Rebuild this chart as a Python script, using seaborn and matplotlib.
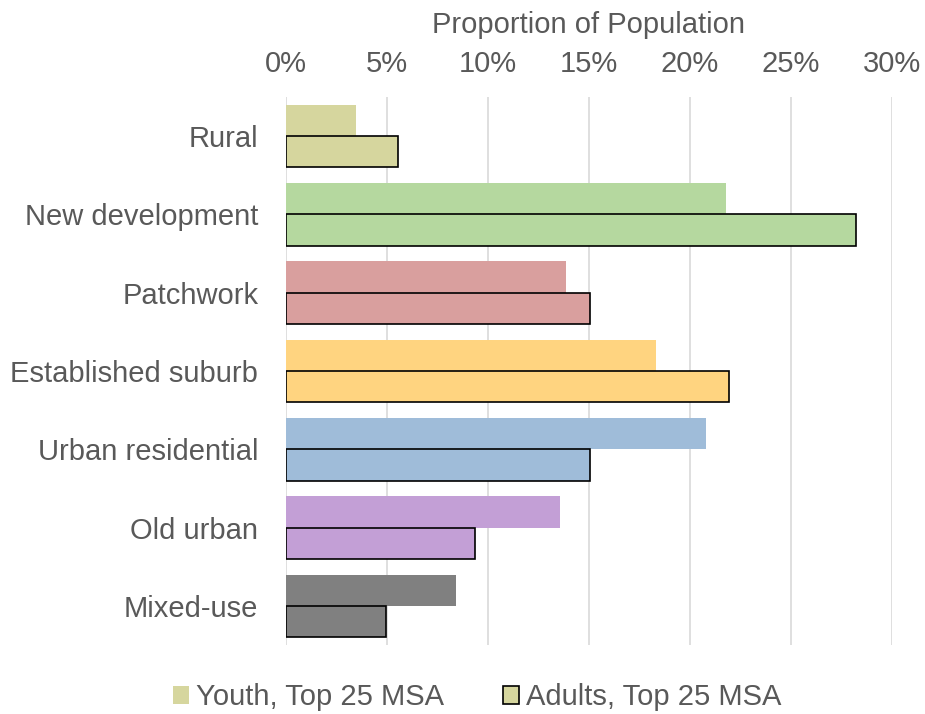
import seaborn as sns
import matplotlib.pyplot as plt
import pandas as pd
from matplotlib.patches import Patch
from matplotlib.ticker import PercentFormatter

# Data (percent of population)
categories = ["Rural", "New development", "Patchwork", "Established suburb",
              "Urban residential", "Old urban", "Mixed-use"]
youth = [3.46, 21.8, 13.85, 18.3, 20.8, 13.55, 8.4]
adults = [5.55, 28.2, 15.03, 21.95, 15.03, 9.35, 4.94]
groups = ["Youth, Top 25 MSA", "Adults, Top 25 MSA"]
colors = ["#D6D69E", "#B5D89F", "#D99F9E", "#FFD480", "#9FBCD9", "#C39FD6", "#808080"]

df = pd.DataFrame({
    "category": categories * 2,
    "value": youth + adults,
    "group": [groups[0]] * len(categories) + [groups[1]] * len(categories),
})

sns.set_theme(style="white")
plt.rcParams["font.family"] = ["Liberation Sans", "DejaVu Sans"]
text_color = "#595959"
fs = 21

fig = plt.figure(figsize=(9.25, 7.14), dpi=100)
ax = fig.add_axes([286 / 925, 1 - 645 / 714, (892 - 286) / 925, (645 - 97) / 714])

sns.barplot(data=df, y="category", x="value", hue="group", orient="h",
            order=categories, hue_order=groups, width=0.8, ax=ax, legend=False)

# recolour the bars by category, adults get a black outline
for i, container in enumerate(ax.containers):
    for bar, c in zip(container, colors):
        bar.set_facecolor(c)
        if i == 1:
            bar.set_edgecolor("black")
            bar.set_linewidth(1.2)
        else:
            bar.set_edgecolor("none")

ax.set_xlim(0, 30)
ax.set_xticks(range(0, 31, 5))
ax.xaxis.set_major_formatter(PercentFormatter(decimals=0))
ax.xaxis.tick_top()
ax.xaxis.set_label_position("top")
ax.set_xlabel("Proportion of Population", fontsize=fs, color=text_color, labelpad=12)
ax.set_ylabel("")
ax.tick_params(axis="x", labelsize=fs, colors=text_color, length=0, pad=14)
ax.tick_params(axis="y", labelsize=fs, colors=text_color, length=0, pad=20)
ax.grid(axis="x", color="#D9D9D9", linewidth=1.2)
ax.set_axisbelow(True)
for s in ax.spines.values():
    s.set_visible(False)

handles = [Patch(facecolor=colors[0], edgecolor="none", label=groups[0]),
           Patch(facecolor=colors[0], edgecolor="black", linewidth=1.2, label=groups[1])]
fig.legend(handles=handles, loc="lower center", bbox_to_anchor=(0.516, -0.033), ncol=2,
           frameon=False, fontsize=fs, handlelength=0.55, handleheight=0.55,
           handletextpad=0.25, columnspacing=2.0, labelcolor=text_color)

fig.savefig("out.png", dpi=100)
